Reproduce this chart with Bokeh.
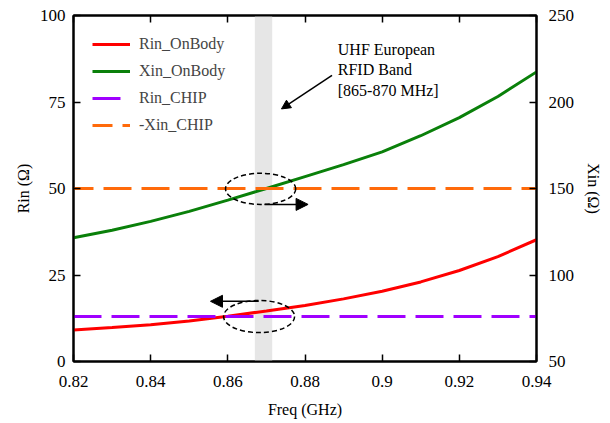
from bokeh.plotting import figure
from bokeh.models import (Range1d, LinearAxis, FixedTicker, CustomJSTickFormatter,
                          BoxAnnotation, Arrow, NormalHead, Label, Legend, LegendItem)
from bokeh.embed import file_html
from bokeh.resources import INLINE

# ---- data ----
freq = [0.82, 0.83, 0.84, 0.85, 0.86, 0.87, 0.88, 0.89, 0.90, 0.91, 0.92, 0.93, 0.94]
rin_onbody = [9.1, 9.8, 10.6, 11.7, 13.1, 14.6, 16.2, 18.1, 20.3, 23.0, 26.3, 30.3, 35.2]
xin_onbody = [121.5, 125.9, 131.0, 136.8, 143.3, 150.0, 156.9, 163.8, 171.2, 180.5, 191.0, 203.2, 217.4]
rin_chip = [13.0] * len(freq)
neg_xin_chip = [150.0] * len(freq)

band = [0.867, 0.8715]
x_ticks = [0.82, 0.84, 0.86, 0.88, 0.90, 0.92, 0.94]
left_ticks = [0, 25, 50, 75, 100]
right_ticks = [50, 100, 150, 200, 250]

# annotation geometry (data units, left axis)
ell_x = [0.8685, 0.8681]
ell_y = [49.9, 13.0]
ell_w = [0.0182, 0.0184]
ell_h = [9.0, 9.3]
arrow_right = (0.8695, 45.4, 0.8808, 45.4)
arrow_left = (0.868, 17.4, 0.8555, 17.4)
arrow_band = (0.8870, 82.7, 0.8739, 73.0)
band_text = "UHF European\nRFID Band\n[865-870 MHz]"
band_text_pos = (0.8885, 92.6)

FONT = "'Liberation Serif', 'Times New Roman', serif"
RED = "#ff0000"
GREEN = "#0a800a"
PURPLE = "#a000ff"
ORANGE = "#ff6a0a"

p = figure(width=610, height=423, output_backend="svg", toolbar_location=None,
           x_range=Range1d(0.82, 0.94), y_range=Range1d(0, 100),
           min_border_left=73, min_border_right=74, min_border_top=15, min_border_bottom=62)
p.extra_y_ranges = {"right": Range1d(50, 250)}
p.grid.visible = False
p.background_fill_color = "white"
p.border_fill_color = "white"
p.outline_line_color = "black"
p.outline_line_width = 2

# band
p.add_layout(BoxAnnotation(left=band[0], right=band[1], fill_color="#e6e6e6",
                           fill_alpha=1.0, line_alpha=0, level="underlay"))

r1 = p.line(freq, rin_onbody, line_color=RED, line_width=3)
r2 = p.line(freq, xin_onbody, line_color=GREEN, line_width=3, y_range_name="right")
r3 = p.line(freq, rin_chip, line_color=PURPLE, line_width=3, line_dash="28 10")
r4 = p.line(freq, neg_xin_chip, line_color=ORANGE, line_width=3, line_dash="28 10",
            line_dash_offset=8, y_range_name="right")

p.ellipse(x=ell_x, y=ell_y, width=ell_w, height=ell_h, fill_alpha=0,
          line_color="black", line_width=1.5, line_dash="5 3")

for (xs, ys, xe, ye), sz in [(arrow_right, 12), (arrow_left, 12), (arrow_band, 9)]:
    p.add_layout(Arrow(end=NormalHead(size=sz, fill_color="black", line_color="black"),
                       x_start=xs, y_start=ys, x_end=xe, y_end=ye,
                       line_color="black", line_width=1.5))

p.add_layout(Label(x=band_text_pos[0], y=band_text_pos[1], text=band_text,
                   text_font=FONT, text_font_size="16px", text_color="black",
                   text_baseline="top", text_align="left", text_line_height=1.2))

fmt = CustomJSTickFormatter(code="return String(Number(tick.toFixed(2)));")
blank = CustomJSTickFormatter(code="return '';")

def style_axis(ax):
    ax.axis_line_width = 2
    ax.axis_line_color = "black"
    ax.major_tick_in = 7
    ax.major_tick_out = 0
    ax.major_tick_line_width = 1.5
    ax.minor_tick_line_color = None
    ax.major_label_text_font = FONT
    ax.major_label_text_font_size = "17px"
    ax.major_label_text_color = "black"
    ax.axis_label_text_font = FONT
    ax.axis_label_text_font_size = "16px"
    ax.axis_label_text_font_style = "normal"
    ax.axis_label_text_color = "black"

# bottom
xa = p.xaxis[0]
xa.ticker = FixedTicker(ticks=x_ticks)
xa.formatter = fmt
xa.axis_label = "Freq (GHz)"
style_axis(xa)
xa.major_label_standoff = 14
xa.axis_label_standoff = 11

# left
ya = p.yaxis[0]
ya.ticker = FixedTicker(ticks=left_ticks)
ya.axis_label = "Rin (Ω)"
style_axis(ya)
ya.major_label_standoff = 8
ya.axis_label_standoff = 5

# right
ra = LinearAxis(y_range_name="right", ticker=FixedTicker(ticks=right_ticks), axis_label="Xin (Ω)")
style_axis(ra)
ra.major_label_standoff = 12
ra.axis_label_standoff = 8
p.add_layout(ra, "right")

# top (ticks only)
ta = LinearAxis(ticker=FixedTicker(ticks=x_ticks), formatter=blank)
style_axis(ta)
ta.major_label_standoff = 0
p.add_layout(ta, "above")

legend = Legend(items=[LegendItem(label="Rin_OnBody", renderers=[r1]),
                       LegendItem(label="Xin_OnBody", renderers=[r2]),
                       LegendItem(label="Rin_CHIP", renderers=[r3]),
                       LegendItem(label="-Xin_CHIP", renderers=[r4])],
                location="top_left", margin=10, padding=9, spacing=7,
                glyph_width=38, glyph_height=20, label_standoff=9,
                label_text_font=FONT, label_text_font_size="16px",
                border_line_alpha=0, background_fill_alpha=0)
p.add_layout(legend, "center")

open("out.html", "w").write(file_html(p, INLINE))
